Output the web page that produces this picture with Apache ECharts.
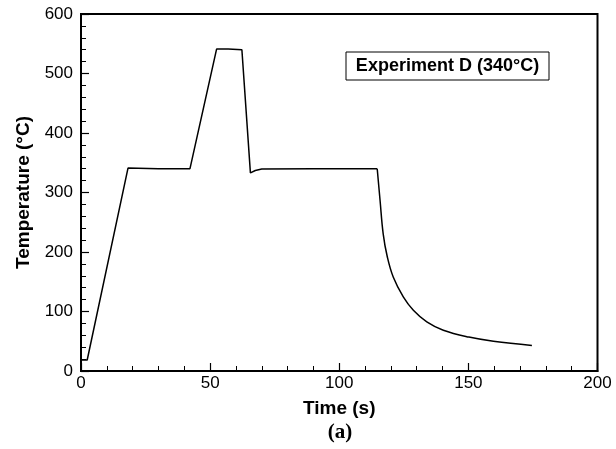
<!DOCTYPE html>
<html>
<head>
<meta charset="utf-8">
<script src="https://cdn.jsdelivr.net/npm/echarts@6/dist/echarts.min.js"></script>
<style>html,body{margin:0;padding:0;background:#fff;}#c{width:616px;height:449px;}</style>
</head>
<body>
<div id="c"></div>
<script>
// Heating / holding portion (s, °C)
var timeHeat = [0, 2.4, 18.2, 30, 42.2, 52.5, 57, 62.3, 65.6, 67.5, 70, 90, 114.7];
var tempHeat = [18.5, 18.5, 341, 340, 340, 541, 541, 540, 333, 337, 339.5, 340, 340];
// Cooling portion (s, °C)
var timeCool = [114.7, 115.8, 117, 118.6, 120.9, 124.8, 128.7, 133.9, 140.3, 150.2, 159.7, 174.6];
var tempCool = [340, 287, 231, 192, 158, 124.5, 102, 82.5, 68.5, 57, 50, 43];

var xTitle = 'Time (s)';
var yTitle = 'Temperature (°C)';
var boxText = 'Experiment D (340°C)';
var subLabel = '(a)';

function pairs(a, b) { return a.map(function (v, i) { return [v, b[i]]; }); }

var chart = echarts.init(document.getElementById('c'), null, { renderer: 'canvas' });
var sans = 'Liberation Sans, Arial, sans-serif';
chart.setOption({
  animation: false,
  backgroundColor: '#fff',
  grid: { left: 81, right: 18.5, top: 14, bottom: 78, show: true, borderColor: '#000', borderWidth: 2, backgroundColor: 'transparent' },
  xAxis: {
    type: 'value', min: 0, max: 200, interval: 50,
    name: xTitle, nameLocation: 'middle', nameGap: 28,
    nameTextStyle: { fontFamily: sans, fontWeight: 'bold', fontSize: 19, color: '#000' },
    axisLine: { show: true, lineStyle: { color: '#000', width: 2 } },
    axisTick: { show: true, inside: true, length: 8, lineStyle: { color: '#000', width: 1.2 } },
    minorTick: { show: true, splitNumber: 5, length: 5, lineStyle: { color: '#000', width: 1 } },
    axisLabel: { fontFamily: sans, fontSize: 17, color: '#000', margin: 4 },
    splitLine: { show: false }
  },
  yAxis: {
    type: 'value', min: 0, max: 600, interval: 100,
    name: yTitle, nameLocation: 'middle', nameGap: 47,
    nameTextStyle: { fontFamily: sans, fontWeight: 'bold', fontSize: 19, color: '#000' },
    axisLine: { show: true, lineStyle: { color: '#000', width: 2 } },
    axisTick: { show: true, inside: true, length: 8, lineStyle: { color: '#000', width: 1.2 } },
    minorTick: { show: true, splitNumber: 5, length: 5, lineStyle: { color: '#000', width: 1 } },
    axisLabel: { fontFamily: sans, fontSize: 17, color: '#000', margin: 8 },
    splitLine: { show: false }
  },
  series: [
    { type: 'line', data: pairs(timeHeat, tempHeat), showSymbol: false, symbol: 'none',
      lineStyle: { color: '#000', width: 1.5 } },
    { type: 'line', data: pairs(timeCool, tempCool), showSymbol: false, symbol: 'none', smooth: 0.4,
      lineStyle: { color: '#000', width: 1.5 } }
  ],
  graphic: [
    { type: 'rect', shape: { x: 346, y: 52, width: 203, height: 28 },
      style: { fill: '#fff', stroke: '#000', lineWidth: 1 } },
    { type: 'text', x: 447.5, y: 66, z: 10,
      style: { text: boxText, font: 'bold 18px ' + sans, fill: '#000', align: 'center', verticalAlign: 'middle' } },
    { type: 'text', x: 340, y: 433,
      style: { text: subLabel, font: 'bold 21px Liberation Serif, Times New Roman, serif', fill: '#000', align: 'center', verticalAlign: 'middle' } }
  ]
});
</script>
</body>
</html>
